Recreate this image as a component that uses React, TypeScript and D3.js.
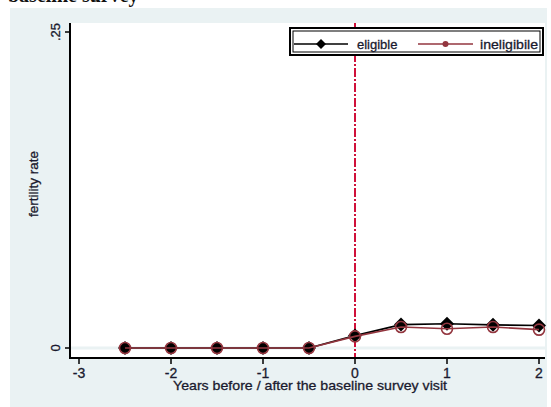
import React from "react";
import * as d3 from "d3";

// Years relative to the baseline survey visit
const years = [-2.5, -2, -1.5, -1, -0.5, 0, 0.5, 1, 1.5, 2];
// Fertility rate by group
const eligible = [0, 0, 0, 0, 0, 0.0098, 0.0185, 0.0192, 0.0183, 0.0178];
const ineligible = [0, 0, 0, 0, 0, 0.0092, 0.0166, 0.0152, 0.0166, 0.0145];

const xTicks = [-3, -2, -1, 0, 1, 2];
const yTicks = [0, 0.25];
const yTickLabels = ["0", ".25"];

const W = 551;
const H = 407;
const plot = { left: 70, right: 545, top: 23, bottom: 358 };

const BG = "#eaf2f3";
const MAROON = "#93363f";
const CRIMSON = "#d0103a";
const INK = "#1a1a2e";
const FONT = "'Liberation Sans', Arial, sans-serif";

// slightly heavier text strokes, as the chart labels render fairly dark
const textStyle = {
  fontFamily: FONT,
  fill: INK,
  stroke: INK,
  strokeWidth: 0.3,
};

export default function App() {
  const x = d3.scaleLinear().domain([-3, 2]).range([79, 539]);
  const y = d3.scaleLinear().domain([0, 0.25]).range([348, 32]);

  const line = d3
    .line<[number, number]>()
    .x((d) => x(d[0]))
    .y((d) => y(d[1]));

  const eligPts = years.map((t, i) => [t, eligible[i]] as [number, number]);
  const inelPts = years.map((t, i) => [t, ineligible[i]] as [number, number]);

  const diamond = (cx: number, cy: number, r: number) =>
    `M${cx},${cy - r}L${cx + r},${cy}L${cx},${cy + r}L${cx - r},${cy}Z`;

  return (
    <svg
      width={W}
      height={H}
      style={{ position: "absolute", left: 0, top: 0, background: "#fff" }}
    >
      {/* caption cut off at the top */}
      <text
        x={8}
        y={2}
        fontFamily="'Liberation Serif', 'Times New Roman', serif"
        fontWeight="bold"
        fontSize={20}
        fill="#111"
      >
        baseline survey
      </text>

      {/* outer graph region */}
      <rect x={10} y={8} width={537} height={H - 8} fill={BG} />
      {/* plot region */}
      <rect
        x={plot.left}
        y={plot.top}
        width={plot.right - plot.left}
        height={plot.bottom - plot.top}
        fill="#fff"
      />

      {/* gridline at zero */}
      <line
        x1={plot.left}
        x2={plot.right}
        y1={y(0)}
        y2={y(0)}
        stroke={BG}
        strokeWidth={3}
      />

      {/* reference line at the baseline visit */}
      <line
        x1={x(0)}
        x2={x(0)}
        y1={plot.top}
        y2={plot.bottom}
        stroke={CRIMSON}
        strokeWidth={2}
        strokeDasharray="9 2 2 2"
      />

      {/* axes */}
      <line
        x1={plot.left}
        x2={plot.left}
        y1={plot.top}
        y2={plot.bottom + 1}
        stroke="#000"
        strokeWidth={2}
      />
      <line
        x1={plot.left - 1}
        x2={plot.right}
        y1={plot.bottom}
        y2={plot.bottom}
        stroke="#000"
        strokeWidth={2}
      />

      {yTicks.map((v, i) => (
        <g key={v}>
          <line
            x1={plot.left - 5}
            x2={plot.left}
            y1={y(v)}
            y2={y(v)}
            stroke="#000"
            strokeWidth={1.5}
          />
          <text
            transform={`translate(60,${y(v)}) rotate(-90)`}
            textAnchor="middle"
            fontSize={13}
            {...textStyle}
          >
            {yTickLabels[i]}
          </text>
        </g>
      ))}

      {xTicks.map((v) => (
        <g key={v}>
          <line
            x1={x(v)}
            x2={x(v)}
            y1={plot.bottom}
            y2={plot.bottom + 6}
            stroke="#000"
            strokeWidth={1.5}
          />
          <text x={x(v)} y={377.5} textAnchor="middle" fontSize={14} {...textStyle}>
            {v}
          </text>
        </g>
      ))}

      {/* axis titles */}
      <text
        x={310}
        y={390}
        textAnchor="middle"
        fontSize={13.5}
        textLength={274}
        lengthAdjust="spacingAndGlyphs"
        {...textStyle}
      >
        Years before / after the baseline survey visit
      </text>
      <text
        transform={`translate(38,184) rotate(-90)`}
        textAnchor="middle"
        fontSize={13.5}
        {...textStyle}
      >
        fertility rate
      </text>

      {/* eligible series */}
      <path d={line(eligPts) ?? ""} fill="none" stroke="#000" strokeWidth={1.6} />
      {eligPts.map(([t, v]) => (
        <path key={`e${t}`} d={diamond(x(t), y(v), 7)} fill="#000" />
      ))}

      {/* ineligible series */}
      <path d={line(inelPts) ?? ""} fill="none" stroke={MAROON} strokeWidth={1.6} />
      {inelPts.map(([t, v]) => (
        <circle
          key={`i${t}`}
          cx={x(t)}
          cy={y(v)}
          r={5.5}
          fill="none"
          stroke={MAROON}
          strokeWidth={1.6}
        />
      ))}

      {/* legend */}
      <rect x={290} y={28} width={253} height={27} fill="#fff" stroke="#000" strokeWidth={2} />
      <rect x={293} y={31} width={247} height={21} fill="none" stroke="#000" strokeWidth={1} />
      <line x1={294} x2={348} y1={44} y2={44} stroke="#000" strokeWidth={1.6} />
      <path d={diamond(321, 44, 5)} fill="#000" />
      <text x={357} y={48.5} fontSize={13} {...textStyle}>
        eligible
      </text>
      <line x1={418} x2={473} y1={44} y2={44} stroke={MAROON} strokeWidth={1.6} />
      <circle cx={445.5} cy={44} r={3} fill={MAROON} />
      <text
        x={480}
        y={48.5}
        fontSize={13}
        textLength={58}
        lengthAdjust="spacingAndGlyphs"
        {...textStyle}
      >
        ineligibile
      </text>
    </svg>
  );
}
